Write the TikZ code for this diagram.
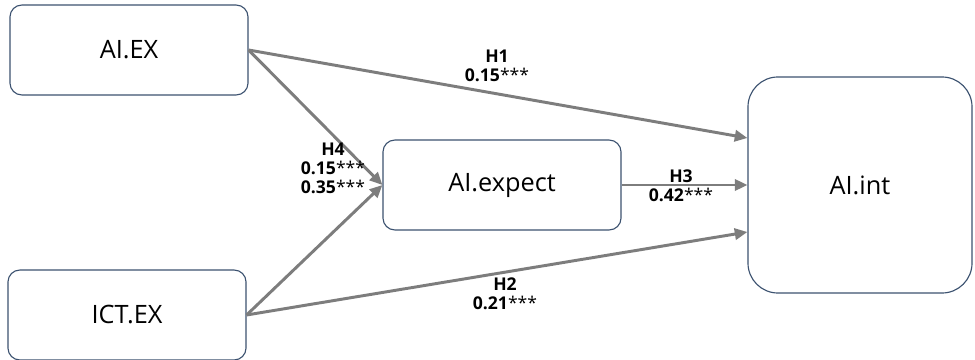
\documentclass[tikz,border=0pt]{standalone}
\usepackage{fontspec}
\setmainfont{Open Sans}
\usepackage{xcolor}
\usepackage{tikz}
\usetikzlibrary{positioning}
\usetikzlibrary{arrows.meta}

\definecolor{boxline}{RGB}{60,82,112}
\definecolor{arrowgray}{RGB}{125,125,125}

\tikzset{
  varbox/.style={draw=boxline, line width=0.8pt, rounded corners=0.3cm, fill=white,
    minimum width=5.95cm, minimum height=2.25cm, font=\fontsize{18}{21}\selectfont},
  path/.style={draw=arrowgray, line width=2.1pt, -{Triangle[length=9pt,width=8pt]}},
  coef/.style={font=\fontsize{12.5}{13.5}\selectfont\bfseries, align=center, inner sep=0pt}
}
\newcommand{\sig}[1]{#1{\mdseries ***}}

\begin{document}
\begin{tikzpicture}[x=0.025cm,y=-0.025cm]
\useasboundingbox (0,0) rectangle (975,360);

% variables
\node[varbox] (aiex) at (129,50) {AI.EX};
\node[varbox] (ictex) at (127,315) {ICT.EX};
\node[varbox] (aiexp) at (502,185) {AI.expect};
\node[varbox, rounded corners=0.75cm, minimum width=5.6cm, minimum height=5.4cm] (aiint) at (860,185) {AI.int};

% arrow ends on AI.int
\coordinate (inH1) at (aiint.west |- 0,138);
\coordinate (inH2) at (aiint.west |- 0,232);

% paths
\draw[path] (aiex.east) -- (inH1);
\draw[path] (aiex.east) -- (aiexp.west);
\draw[path] (ictex.east) -- (aiexp.west);
\draw[path] (ictex.east) -- (inH2);
\draw[path] (aiexp.east) -- (aiint.west);

% coefficients
\node[coef] (h1) at (497,66) {H1\\\sig{0.15}};
\node[coef] (h4) at (333,168) {H4\\\sig{0.15}\\\sig{0.35}};
\node[coef] (h3) at (681,186) {H3\\\sig{0.42}};
\node[coef] (h2) at (505,294) {H2\\\sig{0.21}};

\end{tikzpicture}
\end{document}
